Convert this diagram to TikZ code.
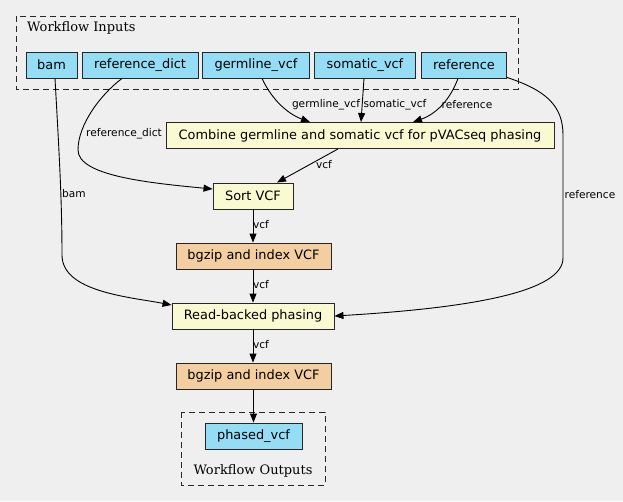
\documentclass[tikz,border=0pt]{standalone}
\usepackage{fontspec}
\usetikzlibrary{arrows.meta}
\newfontfamily\nodefont{DejaVu Sans}
\newfontfamily\clfont{DejaVu Serif}
\definecolor{bgc}{HTML}{EFEFEF}
\definecolor{ioc}{HTML}{94DDF4}
\definecolor{stepc}{HTML}{FAFAD2}
\definecolor{subc}{HTML}{F3CEA1}
\tikzset{
  base/.style={draw=black!85, line width=0.9pt, inner sep=0pt, minimum height=26pt,
    font=\nodefont\fontsize{12.9}{15}\selectfont},
  io/.style={base, fill=ioc},
  stepbox/.style={base, fill=stepc},
  subbox/.style={base, fill=subc},
  cluster/.style={draw=black!85, line width=0.9pt, dash pattern=on 6pt off 4pt},
  cltext/.style={font=\clfont\fontsize{13}{15}\selectfont, inner sep=0pt},
  elabel/.style={font=\nodefont\fontsize{10.6}{12}\selectfont, inner sep=0pt},
  edge/.style={line width=0.9pt, -{Triangle[length=9pt,width=7pt]}},
}
\begin{document}
\begin{tikzpicture}[x=1pt,y=-1pt]
\useasboundingbox (0,0) rectangle (623,501);
\fill[bgc] (0,0) rectangle (623,501);
% clusters
\draw[cluster] (16,16) rectangle (518,89);
\node[cltext, anchor=west] (inlab) at (27,27.5) {Workflow Inputs};
\draw[cluster] (181,412) rectangle (325,485);
\node[cltext] (outlab) at (253,471) {Workflow Outputs};
% inputs
\node[io, minimum width=51pt] (bam) at (51.5,65) {bam};
\node[io, minimum width=116pt] (refdict) at (140,65) {reference\_dict};
\node[io, minimum width=107pt] (germ) at (256,65) {germline\_vcf};
\node[io, minimum width=101pt] (som) at (365,65) {somatic\_vcf};
\node[io, minimum width=85pt] (ref) at (464,65) {reference};
% steps
\node[stepbox, minimum width=388pt] (comb) at (360,135.5) {Combine germline and somatic vcf for pVACseq phasing};
\node[stepbox, minimum width=80pt] (sort) at (253,196) {Sort VCF};
\node[subbox, minimum width=155pt] (bgz1) at (253.5,256) {bgzip and index VCF};
\node[stepbox, minimum width=162pt] (read) at (253,316) {Read-backed phasing};
\node[subbox, minimum width=155pt] (bgz2) at (253.5,376) {bgzip and index VCF};
\node[io, minimum width=97pt] (out) at (253.5,436) {phased\_vcf};
% edges
\draw[edge] ([xshift=3.5pt]bam.south) .. controls (59,150) and (62,200) .. (62,255)
  .. controls (62,292) and (130,297) .. ([yshift=11pt]read.west);
\node[elabel] (lbam) at (74,194) {bam};
\draw[edge] ([xshift=-18pt]refdict.south) .. controls (100,95) and (78,125) .. (78,150)
  .. controls (78,176) and (150,183) .. ([yshift=7pt]sort.west);
\node[elabel] (lrefdict) at (124,134) {reference\_dict};
\draw[edge] ([xshift=6pt]germ.south) .. controls (272,100) and (288,114) .. ([xshift=-50pt]comb.north);
\node[elabel] (lgerm) at (326,105) {germline\_vcf};
\draw[edge] ([xshift=-1pt]som.south) -- ([xshift=1pt]comb.north);
\node[elabel] (lsom) at (395,105) {somatic\_vcf};
\draw[edge] ([xshift=-6pt]ref.south) .. controls (450,100) and (436,114) .. ([xshift=53pt]comb.north);
\node[elabel] (lref1) at (467,105) {reference};
\draw[edge] ([yshift=1pt]ref.south east) .. controls (545,90) and (563,105) .. (563,135)
  -- (563,258) .. controls (563,292) and (470,308) .. (read.east);
\node[elabel] (lref2) at (590,195) {reference};
\draw[edge] ([xshift=-22pt]comb.south) -- ([xshift=24pt]sort.north);
\node[elabel] (lv1) at (324,165) {vcf};
\draw[edge] (sort.south) -- (bgz1.north -| sort.south);
\node[elabel] (lv2) at (261,225) {vcf};
\draw[edge] (bgz1.south -| read.north) -- (read.north);
\node[elabel] (lv3) at (261,285) {vcf};
\draw[edge] (read.south) -- (bgz2.north -| read.south);
\node[elabel] (lv4) at (261,345) {vcf};
\draw[edge] (bgz2.south -| out.north) -- (out.north);
\end{tikzpicture}
\end{document}
